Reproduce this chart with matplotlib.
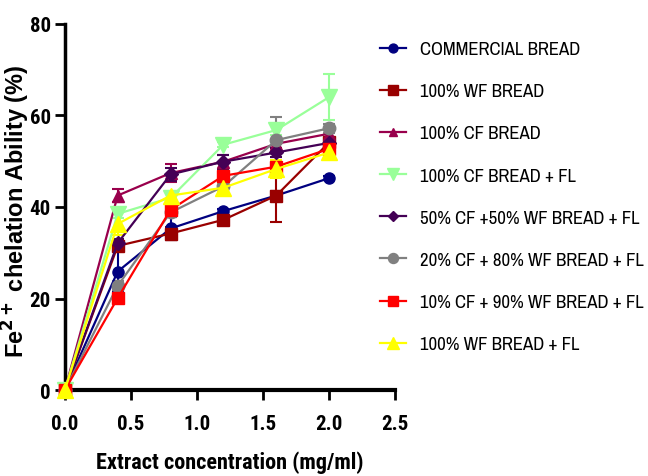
import matplotlib.pyplot as plt
import numpy as np
from matplotlib import font_manager

conc = [0.0, 0.4, 0.8, 1.2, 1.6, 2.0]

labels = ["COMMERCIAL BREAD", "100% WF BREAD", "100% CF BREAD", "100% CF BREAD + FL",
          "50% CF +50% WF BREAD + FL", "20% CF + 80% WF BREAD + FL",
          "10% CF + 90% WF BREAD + FL", "100% WF BREAD + FL"]

commercial = [0, 25.9, 35.3, 39.1, 42.5, 46.3]
wf = [0, 31.5, 34.2, 37.2, 42.5, 54.1]
cf = [0, 42.5, 47.4, 49.9, 53.8, 56.0]
cf_fl = [0, 38.5, 42.0, 53.6, 56.8, 64.0]
cf50_wf50 = [0, 32.1, 47.1, 49.9, 51.9, 54.0]
cf20_wf80 = [0, 22.8, 38.8, 44.5, 54.6, 57.2]
cf10_wf90 = [0, 20.1, 39.4, 46.8, 48.8, 52.7]
wf_fl = [0, 36.3, 42.5, 44.2, 48.3, 51.9]

err_commercial = [0, 4.5, 2.5, 0.5, 1.0, 0.5]
err_wf = [0, 1.0, 1.5, 1.0, 5.7, 1.0]
err_cf = [0, 1.5, 2.0, 1.5, 1.0, 1.0]
err_cf_fl = [0, 1.0, 1.0, 0.5, 1.0, 5.0]
err_cf50 = [0, 1.0, 1.5, 1.5, 1.0, 1.0]
err_cf20 = [0, 1.0, 1.0, 0.5, 5.0, 1.0]
err_cf10 = [0, 0.5, 1.0, 1.0, 1.5, 1.5]
err_wf_fl = [0, 2.5, 1.0, 1.0, 2.0, 1.0]

series = [commercial, wf, cf, cf_fl, cf50_wf50, cf20_wf80, cf10_wf90, wf_fl]
errors = [err_commercial, err_wf, err_cf, err_cf_fl, err_cf50, err_cf20, err_cf10, err_wf_fl]
colors = ["#000080", "#990000", "#99004C", "#99FF99", "#440055", "#808080", "#FF0000", "#FFFF00"]
markers = ["o", "s", "^", "v", "D", "o", "s", "^"]
msizes = [8, 9, 8, 11, 7, 9, 9, 11]

names = set(f.name for f in font_manager.fontManager.ttflist)

def pick(*cands):
    for c in cands:
        if c in names:
            return c
    return "DejaVu Sans"

narrow = pick("Liberation Sans Narrow", "Archivo Narrow", "Roboto Condensed", "Fira Sans Condensed")
narrow_bold = pick("Liberation Sans Narrow", "Roboto Condensed", "Fira Sans Condensed", "Barlow Condensed")

fig = plt.figure(figsize=(6.48, 4.77), dpi=100)
ax = fig.add_axes([0.100, 0.180, 0.510, 0.768])

for y, e, c, m, ms, lab in zip(series, errors, colors, markers, msizes, labels):
    ax.errorbar(conc, y, yerr=e, color=c, marker=m, markersize=ms, lw=1.6,
                elinewidth=1.5, capsize=4, capthick=1.5, label=lab, clip_on=False, zorder=3)

ax.set_xlim(0, 2.5)
ax.set_ylim(0, 80)
ax.set_xticks([0.0, 0.5, 1.0, 1.5, 2.0, 2.5])
ax.set_xticklabels(["0.0", "0.5", "1.0", "1.5", "2.0", "2.5"])
ax.set_yticks([0, 20, 40, 60, 80])
ax.spines["top"].set_visible(False)
ax.spines["right"].set_visible(False)
ax.spines["left"].set_linewidth(2.5)
ax.spines["bottom"].set_linewidth(3)
ax.tick_params(direction="out", length=7, width=2)
ax.tick_params(axis="x", pad=10)
ax.tick_params(axis="y", pad=3)
for t in ax.get_xticklabels() + ax.get_yticklabels():
    t.set_fontfamily(narrow_bold)
    t.set_fontweight("bold")
    t.set_fontsize(15)

ax.set_xlabel("Extract concentration (mg/ml)", fontfamily=narrow_bold, fontweight="bold",
              fontsize=16)
ax.xaxis.set_label_coords(0.5, -0.165)
ax.set_ylabel(r"Fe$^{\mathbf{2+}}$ chelation Ability (%)", fontfamily="Liberation Sans",
              fontweight="bold", fontsize=17)
ax.yaxis.set_label_coords(-0.10, 0.49)

handles, labs = ax.get_legend_handles_labels()
handles = [h[0] for h in handles]
fig.legend(handles, labs, loc="upper left", bbox_to_anchor=(0.586, 0.912), frameon=False,
           prop={"family": narrow, "size": 13.5}, labelspacing=1.39, handlelength=1.4,
           handletextpad=0.75, markerscale=0.8, borderpad=0, borderaxespad=0)

fig.savefig("out.png", dpi=100)
